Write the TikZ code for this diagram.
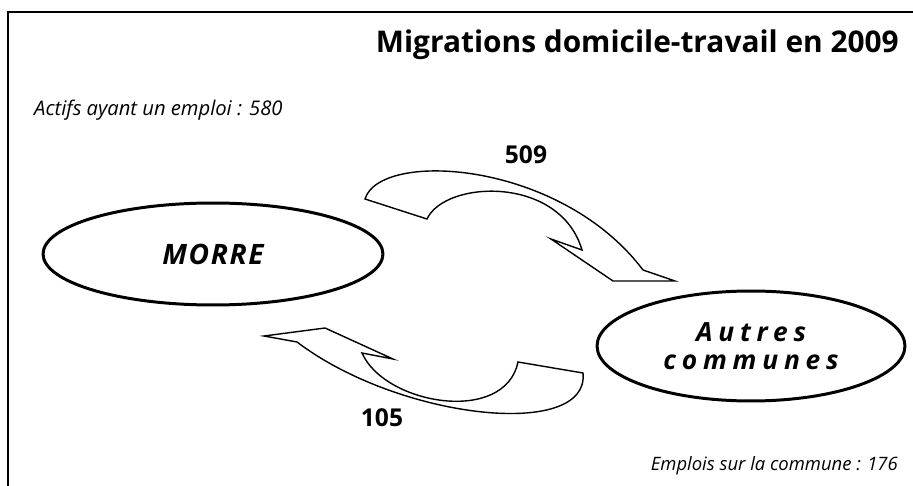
\documentclass[tikz,border=0pt]{standalone}
\usepackage{fontspec}
\setmainfont{Open Sans}
\newfontfamily\spacedfont[LetterSpace=6]{Open Sans}
\newfontfamily\widefont[LetterSpace=22]{Open Sans}
\usetikzlibrary{shapes.geometric}

\tikzset{
  place/.style={ellipse, draw, line width=1.7pt, inner sep=0pt, align=center},
  flow/.style={draw, line width=0.8pt, line join=miter},
  count/.style={font=\bfseries\fontsize{14}{16}\selectfont},
  note/.style={font=\itshape\fontsize{11.5}{13}\selectfont},
}

\begin{document}
\begin{tikzpicture}[x=0.02cm, y=-0.02cm]
        \useasboundingbox (0,0) rectangle (913,486);
        \draw[line width=0.9pt] (8,486) -- (8,12) -- (913,12);

        \node[anchor=east, font=\bfseries\fontsize{17}{20}\selectfont] (title) at (905,45) {Migrations domicile-travail en 2009};
        \node[note, anchor=west] (actifs) at (28,110) {Actifs ayant un emploi : 580};
        \node[note, anchor=east, font=\itshape\fontsize{10.5}{12}\selectfont] (emplois) at (904,466) {Emplois sur la commune : 176};

        \node[place, minimum width=6.8cm, minimum height=2.04cm, font=\spacedfont\bfseries\itshape\fontsize{16}{18}\selectfont] (morre) at (213,254) {MORRE};
        \node[place, minimum width=6.16cm, minimum height=2.2cm, font=\widefont\bfseries\itshape\fontsize{15}{16}\selectfont] (autres) at (751,346) {Autres\\communes};

        % 509 : MORRE -> autres communes
        \draw[flow] (365,199) -- (427,219)
          .. controls (445,180) and (560,175) .. (582,250)
          -- (551,239) -- (613,281) -- (675,281) -- (643,270)
          .. controls (560,160) and (380,150) .. (365,199) -- cycle;
        \node[count] (out) at (526,155) {509};

        % 105 : autres communes -> MORRE
        \draw[flow] (518,362) -- (583,373)
          .. controls (590,440) and (400,420) .. (297,342)
          -- (264,336) -- (325,328) -- (393,359) -- (362,353)
          .. controls (385,405) and (505,425) .. (518,362) -- cycle;
        \node[count] (in) at (382,418) {105};
\end{tikzpicture}
\end{document}
